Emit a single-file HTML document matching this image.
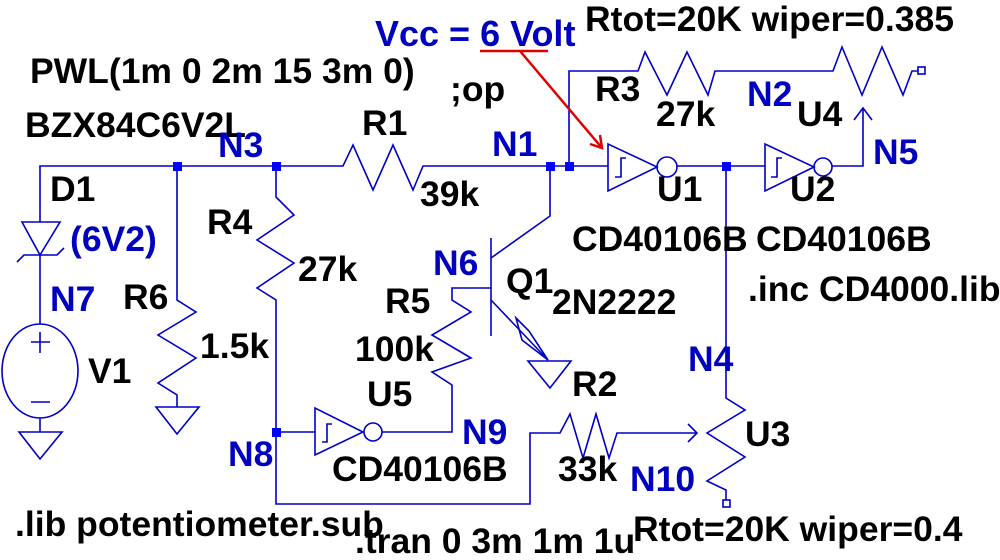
<!DOCTYPE html>
<html><head><style>body{margin:0;background:#fff}svg{display:block}text{font-family:"Liberation Sans",Arial,sans-serif;font-weight:bold;font-size:35.5px;fill:#000}.b{fill:#0000c0}</style></head><body>
<svg width="1000" height="560" viewBox="0 0 1000 560" xmlns="http://www.w3.org/2000/svg">
<g stroke="#0000c8" stroke-width="1.6" fill="none">
<polyline points="40,222 40,166 343,166 353,145 373,190 393,145 413,190 423,166 608,166"/>
<polygon points="22,222 60,222 40,255"/>
<polyline points="17,262 24,255 57,255 64,248"/>
<line x1="40" y1="255" x2="40" y2="324"/>
<ellipse cx="40" cy="371" rx="38" ry="47"/>
<line x1="40" y1="332" x2="40" y2="353"/><line x1="31" y1="342" x2="50" y2="342"/>
<line x1="31" y1="402" x2="50" y2="402"/>
<line x1="40" y1="418" x2="40" y2="432"/>
<polygon points="19,432 62,432 40,459"/>
<polyline points="177,166 177,300 196,312 158,335 196,358 158,383 177,395 177,407"/>
<polygon points="156,407 199,407 177,434"/>
<polyline points="276,166 276,197 294,215 257,240 294,263 257,288 276,300 276,504 530,504 530,433 560,433 570,414 583,458 596,414 609,458 617,433 697,433"/>
<polyline points="688,424 697,433 688,442"/>
<line x1="276" y1="432" x2="315" y2="432"/>
<polygon points="315,408 315,455 363,432"/>
<polyline points="322,442 327,442 327,424 332,424"/>
<circle cx="373" cy="432" r="9"/>
<polyline points="382,432 452,432 452,385 432,372 471,358 432,335 471,312 452,300 452,288 491,288"/>
<line x1="491" y1="238" x2="491" y2="336"/>
<polyline points="491,258 550,216 550,166"/>
<polyline points="491,300 548,360"/>
<polygon points="516,318 529,331 548,360 522,340"/>
<polygon points="528,361 571,361 550,388"/>
<polyline points="569,166 569,71 638,71 645,52 667,95 687,52 708,95 715,71 833,71 842,47 862,95 882,47 903,95 912,71 918,71"/>
<rect x="918" y="67" width="7" height="7"/>
<polygon points="608,144 608,191 657,167"/>
<polyline points="615,177 621,177 621,158 626,158"/>
<circle cx="667" cy="167" r="10"/>
<line x1="677" y1="166" x2="765" y2="166"/>
<polygon points="765,144 765,191 814,167"/>
<polyline points="771,177 777,177 777,158 782,158"/>
<circle cx="823" cy="167" r="9"/>
<polyline points="832,166 863,166 863,108"/>
<polyline points="854,120 863,108 872,120"/>
<polyline points="726,166 726,398 745,410 707,433 745,457 707,481 726,490 726,500"/>
<rect x="723" y="500" width="7" height="7"/>
</g>
<g fill="#0000ff">
<rect x="173" y="162" width="9" height="9"/><rect x="272" y="162" width="9" height="9"/>
<rect x="546" y="162" width="9" height="9"/><rect x="565" y="162" width="9" height="9"/>
<rect x="722" y="162" width="9" height="9"/><rect x="272" y="428" width="9" height="9"/>
</g>
<g stroke="#e00000" stroke-width="2.5" fill="none">
<line x1="480" y1="51" x2="548" y2="51"/>
<line x1="520" y1="51" x2="602" y2="148"/>
<polyline points="590,144 602,148 600,135"/>
</g>
<text class="b" x="375" y="46" style="font-size:36px">Vcc = 6 Volt</text>
<text x="585" y="31">Rtot=20K wiper=0.385</text>
<text x="30" y="83">PWL(1m 0 2m 15 3m 0)</text>
<text x="450" y="101">;op</text>
<text x="25" y="137">BZX84C6V2L</text>
<text class="b" x="218" y="157">N3</text>
<text x="362" y="135">R1</text>
<text class="b" x="492" y="156">N1</text>
<text x="595" y="101">R3</text>
<text x="656" y="126">27k</text>
<text class="b" x="747" y="106">N2</text>
<text x="797" y="126">U4</text>
<text class="b" x="873" y="164">N5</text>
<text x="50" y="201">D1</text>
<text class="b" x="70" y="251">(6V2)</text>
<text x="207" y="234">R4</text>
<text x="420" y="206">39k</text>
<text x="657" y="201">U1</text>
<text x="790" y="201">U2</text>
<text x="572" y="251">CD40106B</text>
<text x="756" y="251">CD40106B</text>
<text x="298" y="281">27k</text>
<text class="b" x="433" y="275">N6</text>
<text x="506" y="293">Q1</text>
<text x="552" y="314">2N2222</text>
<text x="748" y="301">.inc CD4000.lib</text>
<text class="b" x="50" y="311">N7</text>
<text x="123" y="309">R6</text>
<text x="385" y="313">R5</text>
<text x="200" y="358">1.5k</text>
<text x="355" y="361">100k</text>
<text x="88" y="383">V1</text>
<text class="b" x="688" y="371">N4</text>
<text x="572" y="396">R2</text>
<text x="367" y="406">U5</text>
<text x="745" y="446">U3</text>
<text class="b" x="462" y="444">N9</text>
<text class="b" x="228" y="466">N8</text>
<text x="332" y="481">CD40106B</text>
<text x="558" y="481">33k</text>
<text class="b" x="630" y="491">N10</text>
<text x="15" y="536">.lib potentiometer.sub</text>
<text x="355" y="553">.tran 0 3m 1m 1u</text>
<text x="633" y="541">Rtot=20K wiper=0.4</text>
</svg>
</body></html>
